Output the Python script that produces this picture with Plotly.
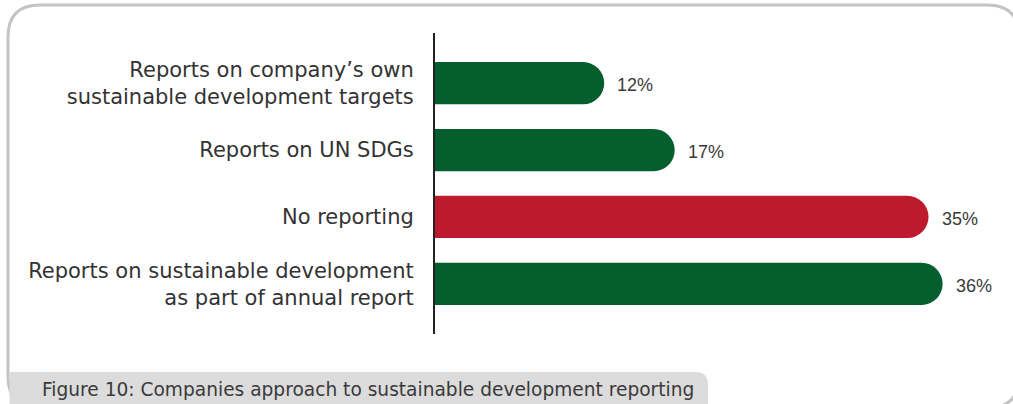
import plotly.graph_objects as go

# Survey shares, listed top to bottom
categories = [
    "Reports on company’s own<br>sustainable development targets",
    "Reports on UN SDGs",
    "No reporting",
    "Reports on sustainable development<br>as part of annual report",
]
values = [12, 17, 35, 36]
bar_colors = ["#055e2e", "#055e2e", "#be1a2e", "#055e2e"]
caption = "Figure 10: Companies approach to sustainable development reporting"

W, H = 1013, 404
ML, MR, MT, MB = 435, 14, 33, 70
PW, PH = W - ML - MR, H - MT - MB

LABEL_FONT = "DejaVu Sans, Open Sans, sans-serif"
VALUE_FONT = "Liberation Sans, Arial, sans-serif"


def px(x):
    return (x - ML) / PW


def py(y):
    return 1 - (y - MT) / PH


def rounded_box(x0, y0, x1, y1, r, corners="tl,tr,br,bl"):
    c = corners.split(",")
    p = []
    p.append(f"M {px(x0 + (r if 'tl' in c else 0))},{py(y0)}")
    if "tr" in c:
        p.append(f"L {px(x1 - r)},{py(y0)} Q {px(x1)},{py(y0)} {px(x1)},{py(y0 + r)}")
    else:
        p.append(f"L {px(x1)},{py(y0)}")
    if "br" in c:
        p.append(f"L {px(x1)},{py(y1 - r)} Q {px(x1)},{py(y1)} {px(x1 - r)},{py(y1)}")
    else:
        p.append(f"L {px(x1)},{py(y1)}")
    if "bl" in c:
        p.append(f"L {px(x0 + r)},{py(y1)} Q {px(x0)},{py(y1)} {px(x0)},{py(y1 - r)}")
    else:
        p.append(f"L {px(x0)},{py(y1)}")
    if "tl" in c:
        p.append(f"L {px(x0)},{py(y0 + r)} Q {px(x0)},{py(y0)} {px(x0 + r)},{py(y0)}")
    p.append("Z")
    return " ".join(p)


fig = go.Figure(
    go.Bar(
        x=values,
        y=categories,
        orientation="h",
        marker=dict(color=bar_colors, line=dict(width=0)),
        width=0.63,
        hoverinfo="skip",
    )
)

# value labels just past each bar end
for cat, v in zip(categories, values):
    fig.add_annotation(
        x=v, y=cat, xref="x", yref="y",
        text=f"{v}%", showarrow=False,
        xanchor="left", yanchor="middle", xshift=11, yshift=-2,
        font=dict(family=VALUE_FONT, size=18, color="#3a3a3a"),
    )

# outer frame
fig.add_shape(
    type="path", xref="paper", yref="paper",
    path=rounded_box(8, 5, 1019, 408, 32),
    line=dict(color="#c4c4c4", width=3), fillcolor="rgba(0,0,0,0)",
    layer="below",
)
# caption tab
fig.add_shape(
    type="path", xref="paper", yref="paper",
    path=rounded_box(9.5, 372, 708, 410, 13, corners="tr"),
    line=dict(width=0), fillcolor="#dcdcdc",
    layer="below",
)
fig.add_annotation(
    x=px(40), y=py(389), xref="paper", yref="paper",
    text=caption, showarrow=False, xanchor="left", yanchor="middle",
    font=dict(family=LABEL_FONT, size=18.6, color="#3a3a3a"),
)

fig.update_layout(
    width=W, height=H,
    margin=dict(l=ML, r=MR, t=MT, b=MB, pad=0),
    paper_bgcolor="white", plot_bgcolor="white",
    barcornerradius=21,
    showlegend=False,
    xaxis=dict(range=[0, 40], visible=False, fixedrange=True),
    yaxis=dict(
        type="category",
        range=[3.75, -0.75],
        showline=True, linecolor="#222222", linewidth=2,
        showgrid=False, zeroline=False, ticks="",
        ticklabelstandoff=15,
        tickfont=dict(family=LABEL_FONT, size=21, color="#333333"),
        fixedrange=True,
    ),
)

fig.write_html("out.html", config={"displayModeBar": False})
